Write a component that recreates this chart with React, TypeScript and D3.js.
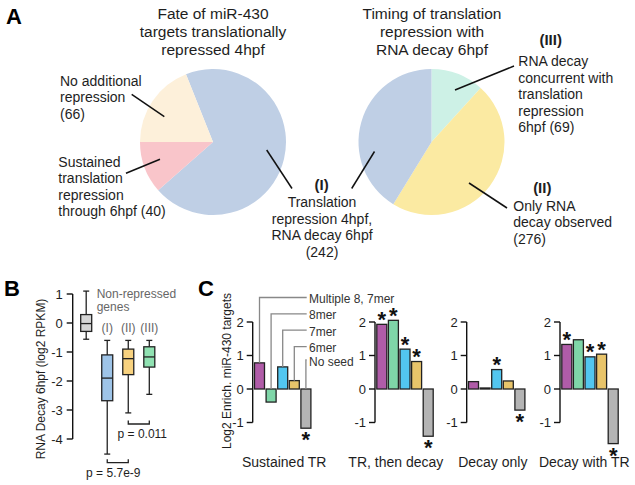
import React from "react";
import * as d3 from "d3";

const W = 635;
const H = 485;
const FONT = "'Liberation Sans', Arial, Helvetica, sans-serif";
const INK = "#1e1e1e";

// ---------- Panel A data ----------
const fateCategories = ["Translation repression 4hpf, RNA decay 6hpf", "Sustained translation repression through 6hpf", "No additional repression"];
const fateCounts = [242, 40, 66];
const fateColors = ["#bfcfe5", "#f9c5ca", "#fdf0da"];

const timingCategories = ["RNA decay concurrent with translation repression 6hpf", "Only RNA decay observed", "Translation repression 4hpf, RNA decay 6hpf"];
const timingCounts = [69, 276, 242];
const timingColors = ["#cdf1e6", "#fbeaa2", "#bfcfe5"];

// ---------- Panel B data ----------
const boxGroups = ["Non-repressed", "(I)", "(II)", "(III)"];
const boxWhiskerHigh = [1.1, -0.6, -0.6, -0.6];
const boxQ3 = [0.29, -1.1, -0.9, -0.82];
const boxMedian = [-0.02, -1.9, -1.23, -1.17];
const boxQ1 = [-0.29, -2.68, -1.78, -1.52];
const boxWhiskerLow = [-0.56, -4.52, -3.1, -2.46];
const boxColors = ["#d6d6d6", "#9ec4e8", "#f8d27f", "#90e2b2"];
const bTicks = [1, 0, -1, -2, -3, -4];

// ---------- Panel C data ----------
const seedTypes = ["Multiple 8, 7mer", "8mer", "7mer", "6mer", "No seed"];
const targetClasses = ["Sustained TR", "TR, then decay", "Decay only", "Decay with TR"];
const sustainedTR = [0.78, -0.39, 0.66, 0.25, -1.17];
const trThenDecay = [1.93, 2.05, 1.19, 0.82, -1.41];
const decayOnly = [0.22, 0.03, 0.58, 0.24, -0.63];
const decayWithTR = [1.33, 1.47, 0.96, 1.04, -1.63];
const sigSustainedTR = [false, false, false, false, true];
const sigTrThenDecay = [true, true, true, true, true];
const sigDecayOnly = [false, false, true, false, true];
const sigDecayWithTR = [true, false, true, true, true];
const seedColors = ["#b05ca8", "#7fd6a8", "#52c6f0", "#e8c46a", "#b4b4b4"];
const cTicks = [2, 1, 0, -1];

// ---------- layout ----------
const cAxisX = [252.7, 375, 466.7, 560];
const cLabelX = [284.2, 395.8, 492.8, 584.3];
const leaderY = [297.5, 313.8, 330.2, 346.6, 360];
const STAR_SIZE = 22;

export default function App() {
  const arc = d3.arc<d3.PieArcDatum<number>>().innerRadius(0).outerRadius(73);
  const fateTotal = d3.sum(fateCounts);
  const fateStart = 1.5 * Math.PI - 2 * Math.PI * (fateCounts[0] + fateCounts[1]) / fateTotal;
  const fatePie = d3.pie<number>().sort(null).value((d) => d)
    .startAngle(fateStart).endAngle(fateStart + 2 * Math.PI)(fateCounts);
  const timingPie = d3.pie<number>().sort(null).value((d) => d)
    .startAngle(0).endAngle(2 * Math.PI)(timingCounts);

  // Panel B scales
  const yB = d3.scaleLinear().domain([-4, 1]).range([439, 294]);
  const xB = d3.scalePoint<string>().domain(boxGroups).range([86.2, 149.3]);
  const boxW = 11;
  const capW = 6;
  const bAxisX = 72.7;

  // Panel C scales
  const yC = d3.scaleLinear().domain([-1, 2]).range([422.5, 322]);
  const cValues = [sustainedTR, trThenDecay, decayOnly, decayWithTR];
  const cSig = [sigSustainedTR, sigTrThenDecay, sigDecayOnly, sigDecayWithTR];

  const lineStyle = { stroke: "#111", strokeWidth: 1.5 };

  return (
    <svg width={W} height={H} style={{ position: "absolute", left: 0, top: 0, background: "#fff" }} fontFamily={FONT}>
      <rect width={W} height={H} fill="#fff" />

      {/* ===== Panel A ===== */}
      <text x={6} y={24} fontSize={22} fontWeight="bold" fill="#000">A</text>

      {["Fate of miR-430", "targets translationally", "repressed 4hpf"].map((s, i) =>
        <text key={"tl" + i} x={213} y={18.5 + i * 18} fontSize={15.5} textAnchor="middle" fill={INK}>{s}</text>)}
      {["Timing of translation", "repression with", "RNA decay 6hpf"].map((s, i) =>
        <text key={"tr" + i} x={432} y={18.5 + i * 18} fontSize={15.5} textAnchor="middle" fill={INK}>{s}</text>)}

      <g transform="translate(213,142)">
        {fatePie.map((d, i) => <path key={fateCategories[i]} d={arc(d) || ""} fill={fateColors[i]} />)}
      </g>
      <g transform="translate(431.5,142)">
        {timingPie.map((d, i) => <path key={timingCategories[i]} d={arc(d) || ""} fill={timingColors[i]} />)}
      </g>

      {/* left pie labels */}
      {["No additional", "repression", "(66)"].map((s, i) =>
        <text key={"na" + i} x={60} y={85.5 + i * 16.5} fontSize={14} fill={INK}>{s}</text>)}
      <line x1={131.7} y1={94.3} x2={164.3} y2={116.7} {...lineStyle} />
      {["Sustained", "translation", "repression", "through 6hpf (40)"].map((s, i) =>
        <text key={"su" + i} x={58.3} y={166.5 + i * 16.5} fontSize={14} fill={INK}>{s}</text>)}
      <line x1={126} y1={173.3} x2={160} y2={159.3} {...lineStyle} />

      {/* (I) */}
      <text x={321.7} y={190} fontSize={15} fontWeight="bold" textAnchor="middle" fill={INK}>(I)</text>
      {["Translation", "repression 4hpf,", "RNA decay 6hpf", "(242)"].map((s, i) =>
        <text key={"i1" + i} x={322} y={207 + i * 16.6} fontSize={14} textAnchor="middle" fill={INK}>{s}</text>)}
      <line x1={266.7} y1={150} x2={292} y2={188.5} {...lineStyle} />
      <line x1={374.5} y1={151.5} x2={351.7} y2={188.5} {...lineStyle} />

      {/* (III) */}
      <text x={550.7} y={45} fontSize={15} fontWeight="bold" textAnchor="middle" fill={INK}>(III)</text>
      {["RNA decay", "concurrent with", "translation", "repression", "6hpf (69)"].map((s, i) =>
        <text key={"i3" + i} x={518.3} y={66 + i * 16.6} fontSize={14} fill={INK}>{s}</text>)}
      <line x1={455} y1={90} x2={514} y2={66} {...lineStyle} />

      {/* (II) */}
      <text x={542.3} y={193.3} fontSize={15} fontWeight="bold" textAnchor="middle" fill={INK}>(II)</text>
      {["Only RNA", "decay observed", "(276)"].map((s, i) =>
        <text key={"i2" + i} x={513.3} y={210.7 + i * 16.6} fontSize={14} fill={INK}>{s}</text>)}
      <line x1={469} y1={183} x2={507} y2={208} {...lineStyle} />

      {/* ===== Panel B ===== */}
      <text x={4} y={296} fontSize={22} fontWeight="bold" fill="#000">B</text>
      <text transform="translate(44.5,379) rotate(-90)" fontSize={12} textAnchor="middle" fill={INK}>RNA Decay 6hpf (log2 RPKM)</text>
      <line x1={bAxisX} x2={bAxisX} y1={yB(1)} y2={yB(-4)} stroke="#111" strokeWidth={1.4} />
      {bTicks.map((t) => (
        <g key={"bt" + t}>
          <line x1={bAxisX - 6} x2={bAxisX} y1={yB(t)} y2={yB(t)} stroke="#111" strokeWidth={1.4} />
          <text x={bAxisX - 10} y={yB(t) + 4.6} fontSize={13} textAnchor="end" fill={INK}>{t}</text>
        </g>
      ))}
      {boxGroups.map((g, i) => {
        const cx = xB(g) as number;
        const st = { stroke: "#222", strokeWidth: 1.3 };
        return (
          <g key={"box" + g}>
            <line x1={cx} x2={cx} y1={yB(boxWhiskerHigh[i])} y2={yB(boxQ3[i])} {...st} />
            <line x1={cx} x2={cx} y1={yB(boxQ1[i])} y2={yB(boxWhiskerLow[i])} {...st} />
            <line x1={cx - capW / 2} x2={cx + capW / 2} y1={yB(boxWhiskerHigh[i])} y2={yB(boxWhiskerHigh[i])} {...st} />
            <line x1={cx - capW / 2} x2={cx + capW / 2} y1={yB(boxWhiskerLow[i])} y2={yB(boxWhiskerLow[i])} {...st} />
            <rect x={cx - boxW / 2} width={boxW} y={yB(boxQ3[i])} height={yB(boxQ1[i]) - yB(boxQ3[i])} fill={boxColors[i]} {...st} />
            <line x1={cx - boxW / 2} x2={cx + boxW / 2} y1={yB(boxMedian[i])} y2={yB(boxMedian[i])} {...st} />
            {i > 0 && <text x={cx} y={332} fontSize={12} textAnchor="middle" fill="#666">{g}</text>}
          </g>
        );
      })}
      <text x={96.7} y={297.5} fontSize={12} fill="#666">Non-repressed</text>
      <text x={96.7} y={311} fontSize={12} fill="#666">genes</text>
      {/* significance brackets */}
      {[[2, 3, 424, 142.3, 438.3, "p = 0.011"], [1, 2, 462.7, 113.3, 476.7, "p = 5.7e-9"]].map((b: any, k) => {
        const x1 = xB(boxGroups[b[0]]) as number;
        const x2 = xB(boxGroups[b[1]]) as number;
        const y = b[2];
        return (
          <g key={"br" + k}>
            <path d={`M${x1},${y - 3.5}V${y}H${x2}V${y - 3.5}`} fill="none" stroke="#222" strokeWidth={1.3} />
            <text x={b[3]} y={b[4]} fontSize={12} textAnchor="middle" fill={INK}>{b[5]}</text>
          </g>
        );
      })}

      {/* ===== Panel C ===== */}
      <text x={198} y={296} fontSize={22} fontWeight="bold" fill="#000">C</text>
      <text transform="translate(231,371) rotate(-90)" fontSize={12} textAnchor="middle" fill={INK}>Log2 Enrich. miR-430 targets</text>
      {targetClasses.map((cls, p) => {
        const ax = cAxisX[p];
        const xC = d3.scaleBand<string>().domain(seedTypes).range([ax + 1.8, ax + 58.2]).paddingInner(0.138);
        const vals = cValues[p];
        return (
          <g key={"cp" + cls}>
            <line x1={ax} x2={ax} y1={yC(2)} y2={yC(-1)} stroke="#111" strokeWidth={1.4} />
            {cTicks.map((t) => (
              <g key={"ct" + t}>
                <line x1={ax - 6} x2={ax} y1={yC(t)} y2={yC(t)} stroke="#111" strokeWidth={1.4} />
                <text x={ax - 9} y={yC(t) + 4.6} fontSize={13} textAnchor="end" fill={INK}>{t}</text>
              </g>
            ))}
            {vals.map((v, i) => {
              const x = xC(seedTypes[i]) as number;
              const bw = xC.bandwidth();
              const y0 = yC(Math.max(0, v));
              const y1 = yC(Math.min(0, v));
              return (
                <g key={"bar" + i}>
                  <rect x={x} y={y0} width={bw} height={Math.max(1, y1 - y0)} fill={seedColors[i]} stroke="#222" strokeWidth={1.3} />
                  {cSig[p][i] && (
                    <text x={x + bw / 2} y={v >= 0 ? yC(v) + 2.5 : yC(v) + 19} fontSize={STAR_SIZE} fontWeight="bold" textAnchor="middle" fill="#111">*</text>
                  )}
                  {p === 0 && (
                    <g>
                      <path d={`M${x + bw / 2},${yC(Math.max(0, v))}V${leaderY[i]}H${306.7}`} fill="none" stroke="#888" strokeWidth={1.3} />
                      <text x={309} y={leaderY[i] + 5.5} fontSize={12} fill="#333">{seedTypes[i]}</text>
                    </g>
                  )}
                </g>
              );
            })}
            <text x={cLabelX[p]} y={466.5} fontSize={14} textAnchor="middle" fill={INK}>{cls}</text>
          </g>
        );
      })}
    </svg>
  );
}
